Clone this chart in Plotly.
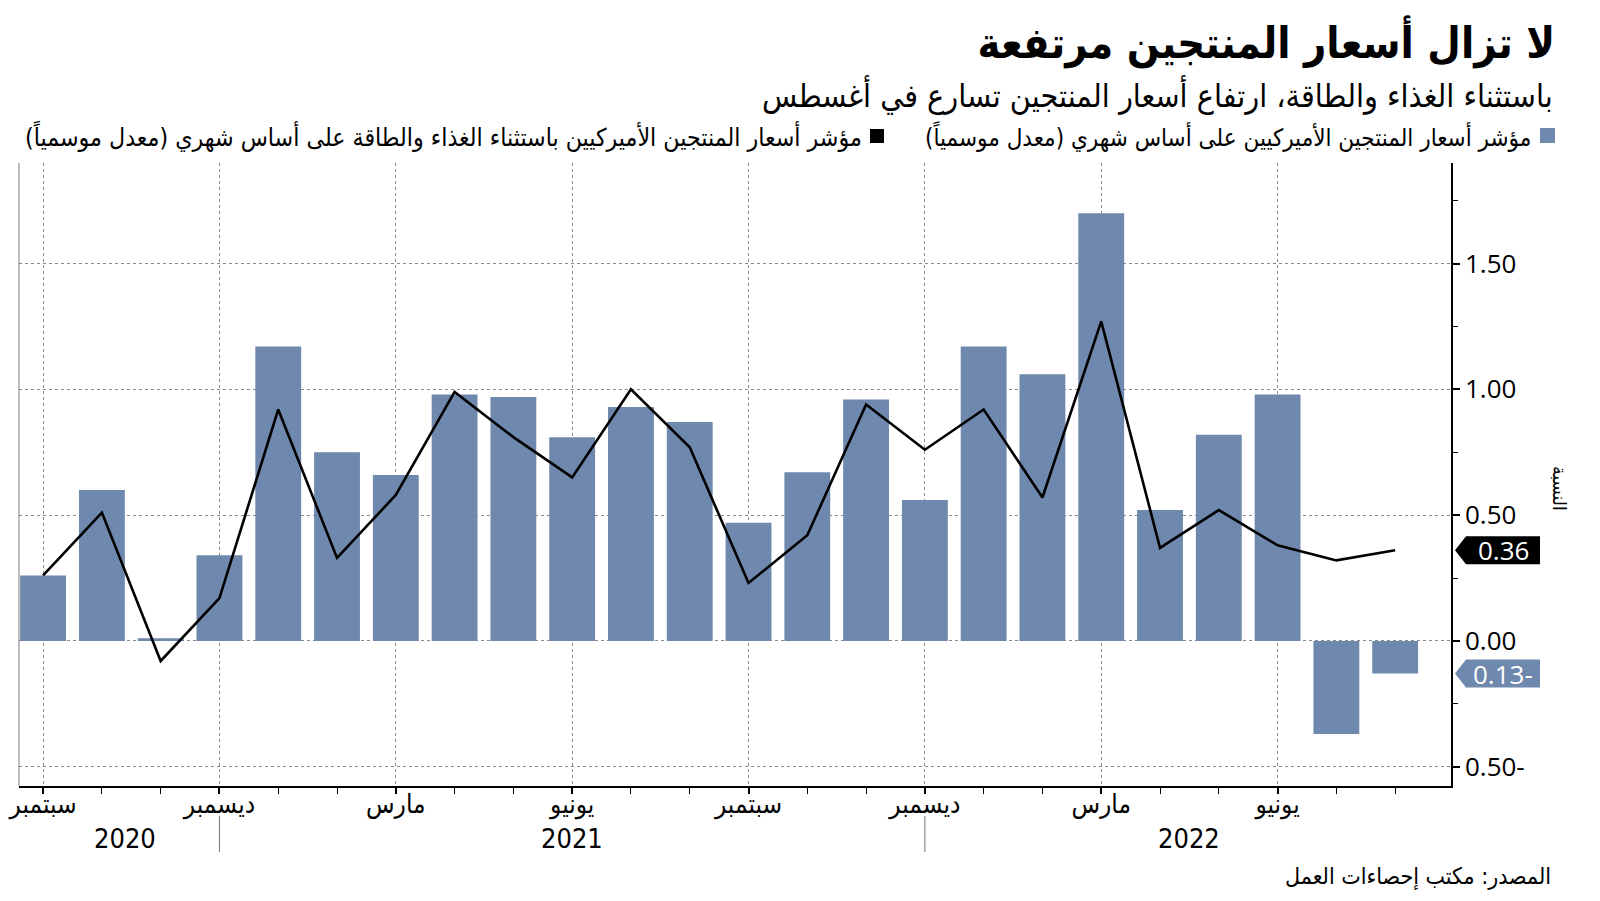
import plotly.graph_objects as go

# monthly data, Sep 2020 -> Aug 2022
months = ["2020-09", "2020-10", "2020-11", "2020-12",
          "2021-01", "2021-02", "2021-03", "2021-04", "2021-05", "2021-06",
          "2021-07", "2021-08", "2021-09", "2021-10", "2021-11", "2021-12",
          "2022-01", "2022-02", "2022-03", "2022-04", "2022-05", "2022-06",
          "2022-07", "2022-08"]
ppi_mom = [0.26, 0.60, 0.01, 0.34, 1.17, 0.75, 0.66, 0.98, 0.97, 0.81,
           0.93, 0.87, 0.47, 0.67, 0.96, 0.56, 1.17, 1.06, 1.70, 0.52,
           0.82, 0.98, -0.37, -0.13]
ppi_core = [0.26, 0.51, -0.08, 0.17, 0.92, 0.33, 0.58, 0.99, 0.81, 0.65,
            1.00, 0.77, 0.23, 0.42, 0.94, 0.76, 0.92, 0.57, 1.27, 0.37,
            0.52, 0.38, 0.32, 0.36]

quarter_months = ["2020-09", "2020-12", "2021-03", "2021-06",
                  "2021-09", "2021-12", "2022-03", "2022-06"]
quarter_names = ["سبتمبر", "ديسمبر", "مارس", "يونيو",
                 "سبتمبر", "ديسمبر", "مارس", "يونيو"]
years = ["2020", "2021", "2022"]
year_pos = [1.4, 9.0, 19.5]
year_breaks = ["2020-12", "2021-12"]

y_ticks = [-0.5, 0.0, 0.5, 1.0, 1.5]
y_ticktext = ["0.50-", "0.00", "0.50", "1.00", "1.50"]

title = "لا تزال أسعار المنتجين مرتفعة"
subtitle = "باستثناء الغذاء والطاقة، ارتفاع أسعار المنتجين تسارع في أغسطس"
leg1 = "مؤشر أسعار المنتجين الأميركيين على أساس شهري (معدل موسمياً)"
leg2 = "مؤشر أسعار المنتجين الأميركيين باستثناء الغذاء والطاقة على أساس شهري (معدل موسمياً)"
source = "المصدر: مكتب إحصاءات العمل"
y_title = "النسبة"

BLUE = "#6f88ad"
AR = "DejaVu Sans Condensed"
NUM = "Open Sans"
RLM = "\u200f"

# the page body has an 8px margin, so the figure is drawn 8px in
OFF = 8
W, H = 1600 - 2 * OFF, 901 - 2 * OFF
ML, MT = 19 - OFF, 163 - OFF
MR = W - (1451 - OFF)
MB = H - (786 - OFF)
PW, PH = W - ML - MR, H - MT - MB
Y0, Y1 = -0.577, 1.90


def px(x):
    # page pixel -> paper x
    return (x - OFF - ML) / PW


def py(y):
    # page pixel -> paper y
    return (H - MB - (y - OFF)) / PH


x_idx = list(range(len(months)))

fig = go.Figure()
fig.add_trace(go.Bar(x=x_idx, y=ppi_mom, marker_color=BLUE, marker_line_width=0,
                     width=0.78, showlegend=False))
fig.add_trace(go.Scatter(x=x_idx, y=ppi_core, mode="lines",
                         line=dict(color="black", width=2.6), showlegend=False))

fig.update_layout(
    width=W, height=H,
    margin=dict(l=ML, r=MR, t=MT, b=MB, autoexpand=False),
    paper_bgcolor="white", plot_bgcolor="white",
    title=dict(text="<b>" + title + "</b>", x=(1555 - OFF) / W, xanchor="right",
               y=1 - (43 - OFF) / H, yanchor="middle",
               font=dict(family=AR, size=43, color="black")),
)

fig.update_xaxes(
    automargin=False,
    range=[-0.41, 23.95],
    tickmode="array",
    tickvals=[months.index(m) for m in quarter_months],
    ticktext=quarter_names,
    tickfont=dict(family=AR, size=26, color="black"),
    ticklabelstandoff=-12,
    ticks="outside", ticklen=6, tickwidth=2, tickcolor="black",
    showgrid=True, gridcolor="#8a8a8a", griddash="dot", gridwidth=1,
    showline=True, linecolor="black", linewidth=1.5,
    minor=dict(tickmode="linear", tick0=0, dtick=1, ticks="outside", ticklen=6,
               tickcolor="black", tickwidth=1, showgrid=False),
    zeroline=False,
)
fig.update_yaxes(
    automargin=False,
    side="right",
    range=[Y0, Y1],
    tickmode="array", tickvals=y_ticks, ticktext=y_ticktext,
    tickfont=dict(family=NUM, size=26, color="black"),
    ticks="outside", ticklen=7, tickwidth=2, tickcolor="black",
    showgrid=True, gridcolor="#8a8a8a", griddash="dot", gridwidth=1,
    showline=True, linecolor="black", linewidth=1.5,
    minor=dict(tickmode="linear", tick0=0, dtick=0.25, ticks="outside", ticklen=5,
               tickcolor="black", tickwidth=1, showgrid=False),
    zeroline=False,
)

shapes = []
# left frame line
shapes.append(dict(type="line", xref="paper", yref="paper", x0=0, x1=0, y0=0, y1=1,
                   line=dict(color="#7a7a7a", width=1)))
# year separators
for m in year_breaks:
    i = months.index(m)
    shapes.append(dict(type="line", xref="x", yref="paper", x0=i, x1=i,
                       y0=py(816), y1=py(852), line=dict(color="#777", width=1)))
# legend squares
shapes.append(dict(type="rect", xref="paper", yref="paper",
                   x0=px(1540), x1=px(1555), y0=py(143), y1=py(128),
                   fillcolor=BLUE, line_width=0))
shapes.append(dict(type="rect", xref="paper", yref="paper",
                   x0=px(870), x1=px(884), y0=py(143), y1=py(129),
                   fillcolor="black", line_width=0))

# end-value labels (pentagon tags next to the axis)
half = 14 / PH * (Y1 - Y0)
tags = [(ppi_core[-1], "black", "0.36"), (ppi_mom[-1], BLUE, "0.13-")]
annotations = []
for val, col, txt in tags:
    xt, xb, xr = px(1455), px(1466), px(1540)
    path = (f"M {xt},{val} L {xb},{val + half} L {xr},{val + half} "
            f"L {xr},{val - half} L {xb},{val - half} Z")
    shapes.append(dict(type="path", xref="paper", yref="y", path=path,
                       fillcolor=col, line_width=0))
    annotations.append(dict(x=px(1503), y=val, xref="paper", yref="y", text=txt,
                            showarrow=False, xanchor="center", yanchor="middle",
                            font=dict(family=NUM, size=26, color="white")))

annotations += [
    dict(x=px(1555), y=py(95), xref="paper", yref="paper", text=subtitle,
         showarrow=False, xanchor="right", yanchor="middle",
         font=dict(family=AR, size=32, color="black")),
    dict(x=px(1533), y=py(136), xref="paper", yref="paper", text=leg1 + RLM,
         showarrow=False, xanchor="right", yanchor="middle",
         font=dict(family=AR, size=24, color="black")),
    dict(x=px(864), y=py(136), xref="paper", yref="paper", text=leg2 + RLM,
         showarrow=False, xanchor="right", yanchor="middle",
         font=dict(family=AR, size=24.7, color="black")),
    dict(x=px(1560), y=py(488), xref="paper", yref="paper", text=y_title,
         showarrow=False, textangle=90, xanchor="center", yanchor="middle",
         font=dict(family=AR, size=19, color="black")),
    dict(x=px(1553), y=py(876), xref="paper", yref="paper", text=source,
         showarrow=False, xanchor="right", yanchor="middle",
         font=dict(family=AR, size=23, color="black")),
]
for yr, pos in zip(years, year_pos):
    annotations.append(dict(x=pos, y=py(838), xref="x", yref="paper", text=yr,
                            showarrow=False, xanchor="center", yanchor="middle",
                            font=dict(family=AR, size=27, color="black")))

fig.update_layout(shapes=shapes, annotations=annotations)

fig.write_html("out.html")
